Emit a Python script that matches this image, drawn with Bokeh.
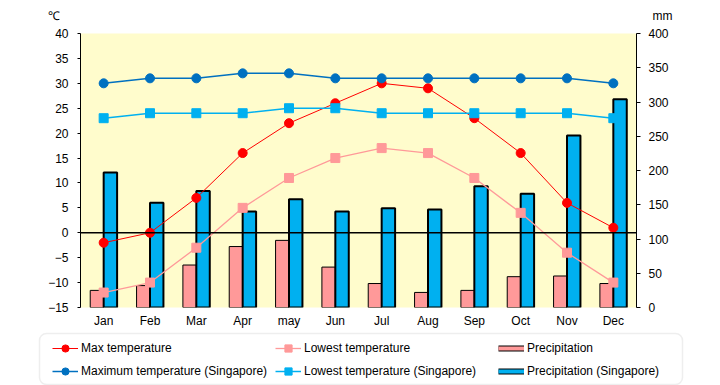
from bokeh.plotting import figure
from bokeh.layouts import column
from bokeh.models import (ColumnDataSource, Range1d, LinearAxis, FixedTicker, Span,
                          Label, Legend, LegendItem, FactorRange, BoxAnnotation)
from bokeh.transform import dodge
from bokeh.embed import file_html
from bokeh.resources import INLINE

months = ["Jan", "Feb", "Mar", "Apr", "may", "Jun", "Jul", "Aug", "Sep", "Oct", "Nov", "Dec"]
max_temp = [-2, 0, 7, 16, 22, 26, 30, 29, 23, 16, 6, 1]
low_temp = [-12, -10, -3, 5, 11, 15, 17, 16, 11, 4, -4, -10]
precip = [25, 32, 62, 89, 98, 59, 35, 22, 25, 45, 46, 35]
sg_max = [30, 31, 31, 32, 32, 31, 31, 31, 31, 31, 31, 30]
sg_low = [23, 24, 24, 24, 25, 25, 24, 24, 24, 24, 24, 23]
sg_precip = [197, 153, 170, 140, 158, 140, 145, 143, 177, 166, 251, 304]
temp_ticks = [-15, -10, -5, 0, 5, 10, 15, 20, 25, 30, 35, 40]
mm_ticks = [0, 50, 100, 150, 200, 250, 300, 350, 400]

FONT = "Liberation Sans"
RED = "#FF0000"
PINK = "#FF9999"
DBLUE = "#0070C0"
LBLUE = "#00B0F0"

src = ColumnDataSource(dict(month=months, max_temp=max_temp, low_temp=low_temp,
                            precip=precip, sg_max=sg_max, sg_low=sg_low,
                            sg_precip=sg_precip))


def strip(height, x_range, y_range):
    f = figure(width=720, height=height, x_range=x_range, y_range=y_range,
               output_backend="svg", toolbar_location=None,
               x_axis_location=None, y_axis_location=None,
               min_border=0, min_border_left=0, min_border_right=0,
               min_border_top=0, min_border_bottom=0)
    f.frame_align = False
    f.outline_line_color = None
    f.background_fill_color = "white"
    f.border_fill_color = "white"
    f.xgrid.grid_line_color = None
    f.ygrid.grid_line_color = None
    return f


# ---------------- header with unit labels ----------------
hdr = strip(25, Range1d(0, 1), Range1d(0, 1))
hdr.add_layout(Label(x=53, y=10, x_units="screen", y_units="screen", text="℃",
                     text_font=FONT, text_font_size="12px", text_align="center",
                     text_baseline="middle", text_color="black"))
hdr.add_layout(Label(x=662, y=10, x_units="screen", y_units="screen", text="mm",
                     text_font=FONT, text_font_size="12px", text_align="center",
                     text_baseline="middle", text_color="black"))

# ---------------- main chart ----------------
p = figure(width=720, height=306, x_range=FactorRange(*months),
           y_range=Range1d(-15, 40), output_backend="svg", toolbar_location=None,
           min_border_left=80, min_border_right=84, min_border_top=8,
           min_border_bottom=24)
p.frame_align = False
p.extra_y_ranges = {"mm": Range1d(0, 400)}
p.background_fill_color = "#FFFCCC"
p.border_fill_color = "white"
p.outline_line_color = None
p.xgrid.grid_line_color = None
p.ygrid.grid_line_color = None

ya = p.yaxis[0]
ya.ticker = FixedTicker(ticks=temp_ticks)
ya.axis_line_color = "black"
ya.major_tick_line_color = "black"
ya.major_tick_out = 3
ya.major_tick_in = 0
ya.minor_tick_line_color = None
ya.major_label_standoff = 9
ya.major_label_text_font = FONT
ya.major_label_text_font_size = "12px"
ya.major_label_text_color = "black"

ra = LinearAxis(y_range_name="mm", ticker=FixedTicker(ticks=mm_ticks))
ra.axis_line_color = "black"
ra.major_tick_line_color = "black"
ra.major_tick_out = 4
ra.major_tick_in = 0
ra.minor_tick_line_color = None
ra.major_label_standoff = 8
ra.major_label_text_font = FONT
ra.major_label_text_font_size = "12px"
ra.major_label_text_color = "black"
p.add_layout(ra, "right")

xa = p.xaxis[0]
xa.axis_line_color = None
xa.major_tick_line_color = None
xa.minor_tick_line_color = None
xa.major_tick_out = 0
xa.major_label_standoff = 6
xa.major_label_text_font = FONT
xa.major_label_text_font_size = "12px"
xa.major_label_text_color = "black"

bw = 0.29
p.vbar(x=dodge("month", -bw / 2, range=p.x_range), top="precip", bottom=0,
       width=bw, source=src, y_range_name="mm", fill_color=PINK,
       line_color="black", line_width=1)
p.vbar(x=dodge("month", bw / 2, range=p.x_range), top="sg_precip", bottom=0,
       width=bw, source=src, y_range_name="mm", fill_color=LBLUE,
       line_color="black", line_width=2)

p.add_layout(Span(location=0, dimension="width", line_color="black", line_width=1.3))

p.line("month", "max_temp", source=src, line_color=RED, line_width=1)
p.scatter("month", "max_temp", source=src, marker="circle", size=9,
          fill_color=RED, line_color=RED)
p.line("month", "low_temp", source=src, line_color=PINK, line_width=1.3)
p.scatter("month", "low_temp", source=src, marker="square", size=9,
          fill_color=PINK, line_color=PINK)
p.line("month", "sg_max", source=src, line_color=DBLUE, line_width=1.5)
p.scatter("month", "sg_max", source=src, marker="circle", size=9,
          fill_color=DBLUE, line_color=DBLUE)
p.line("month", "sg_low", source=src, line_color=LBLUE, line_width=1.5)
p.scatter("month", "sg_low", source=src, marker="square", size=9,
          fill_color=LBLUE, line_color=LBLUE)

# ---------------- legend strip ----------------
lf = strip(54, FactorRange(*months), Range1d(5000, 6000))

lf.add_layout(BoxAnnotation(left=39, right=682, bottom=1, top=52,
                            left_units="screen", right_units="screen",
                            top_units="screen", bottom_units="screen",
                            fill_color="white", fill_alpha=1,
                            line_color="#C8C8C8", line_width=1.5,
                            border_radius=7))

# legend renderers use the chart's data but fall outside this strip's range
g1 = [lf.line("month", "max_temp", source=src, line_color=RED, line_width=1),
      lf.scatter("month", "max_temp", source=src, marker="circle", size=9,
                 fill_color=RED, line_color=RED)]
g2 = [lf.line("month", "low_temp", source=src, line_color=PINK, line_width=1.3),
      lf.scatter("month", "low_temp", source=src, marker="square", size=9,
                 fill_color=PINK, line_color=PINK)]
g3 = [lf.line("month", "sg_max", source=src, line_color=DBLUE, line_width=1.5),
      lf.scatter("month", "sg_max", source=src, marker="circle", size=9,
                 fill_color=DBLUE, line_color=DBLUE)]
g4 = [lf.line("month", "sg_low", source=src, line_color=LBLUE, line_width=1.5),
      lf.scatter("month", "sg_low", source=src, marker="square", size=9,
                 fill_color=LBLUE, line_color=LBLUE)]
g5 = [lf.line("month", "precip", source=src, line_color="black", line_width=6,
              line_cap="butt"),
      lf.line("month", "precip", source=src, line_color=PINK, line_width=4,
              line_cap="butt")]
g6 = [lf.line("month", "sg_precip", source=src, line_color="black", line_width=6,
              line_cap="butt"),
      lf.line("month", "sg_precip", source=src, line_color=LBLUE, line_width=4,
              line_cap="butt")]

legend = Legend(items=[
    LegendItem(label="Max temperature", renderers=g1),
    LegendItem(label="Maximum temperature (Singapore)", renderers=g3),
    LegendItem(label="Lowest temperature", renderers=g2),
    LegendItem(label="Lowest temperature (Singapore)", renderers=g4),
    LegendItem(label="Precipitation", renderers=g5),
    LegendItem(label="Precipitation (Singapore)", renderers=g6),
], orientation="vertical", nrows=2, location=(52, 4))
legend.glyph_width = 26
legend.glyph_height = 18
legend.label_height = 20
legend.label_width = 191
legend.label_standoff = 3
legend.label_text_font = FONT
legend.label_text_font_size = "12px"
legend.label_text_color = "black"
legend.spacing = 3
legend.padding = 0
legend.margin = 0
legend.border_line_color = None
legend.background_fill_alpha = 0
lf.add_layout(legend, "center")

layout = column(hdr, p, lf, spacing=0)
open("out.html", "w").write(file_html(layout, INLINE))
